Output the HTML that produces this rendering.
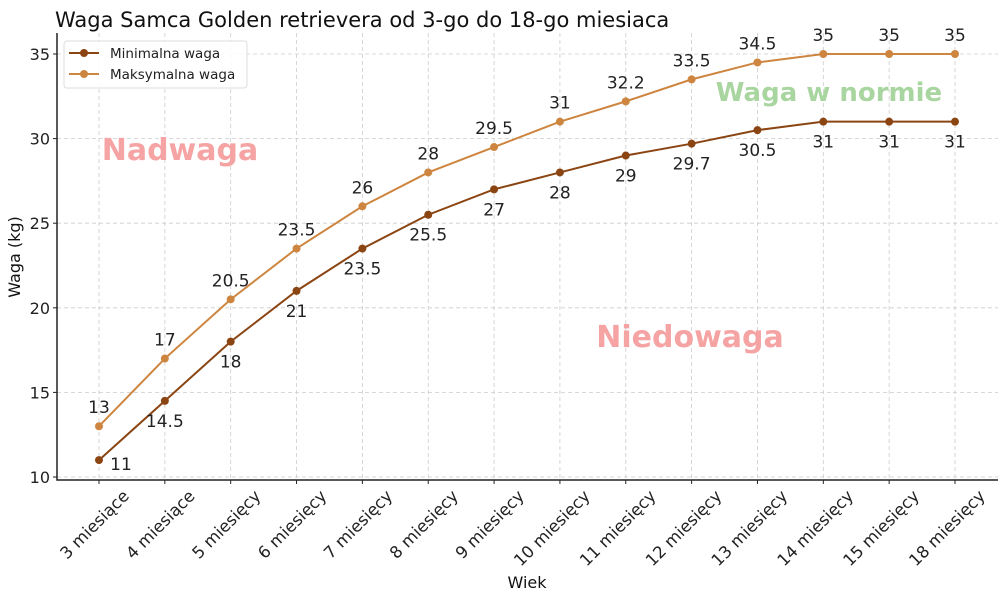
<!DOCTYPE html>
<html><head><meta charset="utf-8"><style>
body{margin:0;background:#fff}
svg{font-family:"DejaVu Sans","Liberation Sans",sans-serif}
</style></head><body>
<svg id="c" width="1000" height="600"></svg>
<script>
const categories=["3 miesiące","4 miesiące","5 miesięcy","6 miesięcy","7 miesięcy","8 miesięcy","9 miesięcy","10 miesięcy","11 miesięcy","12 miesięcy","13 miesięcy","14 miesięcy","15 miesięcy","18 miesięcy"];
const minWeights=[11,14.5,18,21,23.5,25.5,27,28,29,29.7,30.5,31,31,31];
const maxWeights=[13,17,20.5,23.5,26,28,29.5,31,32.2,33.5,34.5,35,35,35];
const minLabels=["11","14.5","18","21","23.5","25.5","27","28","29","29.7","30.5","31","31","31"];
const maxLabels=["13","17","20.5","23.5","26","28","29.5","31","32.2","33.5","34.5","35","35","35"];
const yTicks=[10,15,20,25,30,35];
const NS="http://www.w3.org/2000/svg";
const svg=document.getElementById('c');
const L=57,R=998,T=33,B=480;
const x=i=>99+i*(955-99)/(categories.length-1);
const y=v=>477-(v-10)*(477-54)/25;
function el(t,a,txt){const e=document.createElementNS(NS,t);for(const k in a)e.setAttribute(k,a[k]);if(txt!=null)e.textContent=txt;svg.appendChild(e);return e;}
yTicks.forEach(v=>{
 const g=el('line',{x1:L,x2:R,y1:y(v),y2:y(v),stroke:'#ccc','stroke-dasharray':'4,3','stroke-width':0.8});
 
 
 const tk=el('line',{x1:L-4,x2:L,y1:y(v),y2:y(v),stroke:'#222'});
 
 
 const lb=el('text',{x:L-7,y:y(v)+6,'text-anchor':'end','font-size':16,fill:'#222'},v);
 
 
});
categories.forEach((c,i)=>{
 const g=el('line',{x1:x(i),x2:x(i),y1:T,y2:B,stroke:'#ccc','stroke-dasharray':'4,3','stroke-width':0.8});
 
 
 const tk=el('line',{x1:x(i),x2:x(i),y1:B,y2:B+4,stroke:'#222'});
 
 
 const ax0=x(i)+31,ay0=B+17;
 const lb=el('text',{x:ax0,y:ay0,'text-anchor':'end','font-size':16.5,fill:'#222',transform:`rotate(-45 ${ax0} ${ay0})`},c);
 
 
});
const ax=el('path',{d:`M${L},${T}V${B}H${R}`,fill:'none',stroke:'#222','stroke-width':1.5});


function note(t,xx,yy,col,fs,name){const e=el('text',{x:xx,y:yy,'text-anchor':'middle','font-size':fs,'font-weight':'bold',fill:col},t);}
note('Nadwaga',180,160,'#f5a3a3',30,'overweight-label');
note('Niedowaga',690,347,'#f5a3a3',30,'underweight-label');
note('Waga w normie',829,101,'#a9d6a0',26,'normal-weight-label');
function series(vals,labels,col,name,below){
 const p=el('polyline',{points:vals.map((v,i)=>x(i)+','+y(v)).join(' '),fill:'none',stroke:col,'stroke-width':2});
 
 
 vals.forEach((v,i)=>{
  const c=el('circle',{cx:x(i),cy:y(v),r:4,fill:col});
  
  
  let lx=x(i),ly=below?y(v)+26:y(v)-13;
  if(below&&i===0){lx=x(i)+22;ly=y(v)+10;}
  const t=el('text',{x:lx,y:ly,'text-anchor':'middle','font-size':17,fill:'#222'},labels[i]);
  
  
 });
}
series(maxWeights,maxLabels,'#cd853f','max-weight',false);
series(minWeights,minLabels,'#8b4513','min-weight',true);
let t=el('text',{x:55,y:27,'font-size':21,fill:'#111'},'Waga Samca Golden retrievera od 3-go do 18-go miesiaca');

t=el('text',{x:527,y:588,'text-anchor':'middle','font-size':16,fill:'#111'},'Wiek');

t=el('text',{x:20,y:257,'text-anchor':'middle','font-size':16,fill:'#111',transform:'rotate(-90 20 257)'},'Waga (kg)');

const lg=el('rect',{x:64,y:41,width:183,height:47,rx:3,fill:'#fff','fill-opacity':0.85,stroke:'#ddd'});

[['Minimalna waga','#8b4513',53],['Maksymalna waga','#cd853f',74]].forEach(([n,c,yy])=>{
 const l=el('line',{x1:69,x2:99,y1:yy,y2:yy,stroke:c,'stroke-width':2});
 
 const d=el('circle',{cx:84,cy:yy,r:4,fill:c});
 
 const tx=el('text',{x:110,y:yy+5,'font-size':13.5,fill:'#222'},n);
 
});
</script>
</body></html>
